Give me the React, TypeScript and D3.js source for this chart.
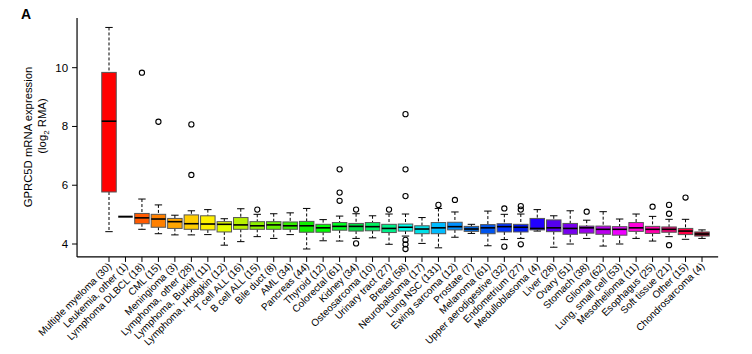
import * as d3 from "d3";

// tissue groups, as on the x axis
const categories = [
  "Multiple myeloma (30)", "Leukemia, other (1)", "Lymphoma DLBCL (18)", "CML (15)",
  "Meningioma (3)", "Lymphoma, other (28)", "Lymphoma, Burkitt (11)", "Lymphoma, Hodgkin (12)",
  "T cell ALL (16)", "B cell ALL (15)", "Bile duct (8)", "AML (34)", "Pancreas (44)",
  "Thyroid (12)", "Colorectal (61)", "Kidney (34)", "Osteosarcoma (10)", "Urinary tract (27)",
  "Breast (58)", "Neurobalstoma (17)", "Lung NSC (131)", "Ewing sarcoma (12)", "Prostate (7)",
  "Melanoma (61)", "Upper aerodigestive (32)", "Endometrium (27)", "Medulloblasoma (4)",
  "Liver (28)", "Ovary (51)", "Stomach (38)", "Glioma (62)", "Lung, small cell (53)",
  "Mesothelioma (11)", "Esophagus (25)", "Soft tissue (21)", "Other (15)", "Chondrosarcoma (4)",
];

const whiskerHigh = [11.37, 4.93, 5.53, 5.33, 4.98, 5.13, 5.17, 4.86, 5.2, 5.01, 5.03, 5.06, 5.21,
  4.83, 4.95, 5.03, 4.96, 5.02, 5.02, 4.9, 5.21, 5.09, 4.67, 5.12, 5.01, 5.02, 5.17,
  4.96, 5.13, 4.81, 5.1, 4.85, 5.02, 4.94, 4.84, 4.84, 4.48];
const q3 = [9.84, 4.93, 5.04, 5.01, 4.87, 4.99, 4.96, 4.76, 4.9, 4.76, 4.76, 4.75, 4.77,
  4.67, 4.73, 4.7, 4.73, 4.67, 4.68, 4.62, 4.73, 4.74, 4.6, 4.66, 4.69, 4.67, 4.87,
  4.82, 4.7, 4.61, 4.61, 4.59, 4.73, 4.6, 4.58, 4.53, 4.41];
const median = [8.18, 4.93, 4.89, 4.85, 4.76, 4.69, 4.68, 4.67, 4.65, 4.62, 4.65, 4.62, 4.62,
  4.55, 4.6, 4.6, 4.59, 4.53, 4.57, 4.51, 4.55, 4.59, 4.51, 4.55, 4.59, 4.57, 4.53,
  4.55, 4.53, 4.55, 4.5, 4.5, 4.55, 4.5, 4.5, 4.44, 4.34];
const q1 = [5.77, 4.93, 4.69, 4.57, 4.53, 4.5, 4.48, 4.41, 4.5, 4.5, 4.5, 4.5, 4.4,
  4.4, 4.47, 4.44, 4.45, 4.39, 4.44, 4.35, 4.35, 4.48, 4.43, 4.35, 4.41, 4.41, 4.48,
  4.42, 4.33, 4.37, 4.33, 4.3, 4.43, 4.36, 4.4, 4.32, 4.27];
const whiskerLow = [4.42, 4.93, 4.5, 4.35, 4.31, 4.31, 4.32, 3.96, 4.08, 4.25, 4.19, 4.32, 3.83,
  4.11, 4.1, 4.19, 4.21, 3.99, 4.27, 4.02, 3.87, 4.23, 4.36, 3.94, 4.15, 4.19, 4.44,
  3.89, 4.0, 4.19, 3.93, 4.0, 4.19, 4.1, 4.25, 4.16, 4.19];
const outliers: number[][] = [[], [], [9.83], [8.16], [], [8.07, 6.35], [], [], [], [5.17], [], [], [],
  [], [6.54, 5.75, 5.47], [5.17, 4.02], [], [5.17], [8.42, 6.54, 5.63, 4.14, 3.99, 3.83], [], [5.33], [5.5], [],
  [], [5.21, 3.91], [5.29, 5.17, 3.99], [], [], [], [5.1], [], [], [], [5.27], [5.33, 5.03, 3.96], [5.58], []];

const boxColors = ["#ff0000", "#ff0000", "#ff5a00", "#ff8000", "#ffa500", "#ffcc00", "#fff000",
  "#e5ff00", "#b8f000", "#8cf000", "#66ee00", "#33ee00", "#11ee00", "#00ff00", "#00ff22",
  "#00dd44", "#00f060", "#00ee88", "#00ffee", "#00e0e8", "#00bbff", "#0090ff", "#0066dd",
  "#0055ee", "#0033ff", "#0018f0", "#2200ff", "#5500ee", "#7700ee", "#9900ee", "#bb00ee",
  "#ee00ff", "#ff00dd", "#ff00aa", "#ee0077", "#ff0044", "#990022"];

const yTicks = [4, 6, 8, 10];

export default function App() {
  const width = 752;
  const height = 354;

  const x = d3.scaleLinear().domain([0, categories.length - 1]).range([109, 702]);
  const y = d3.scaleLinear().domain([4, 10]).range([244, 67.7]);
  const step = x(1) - x(0);
  const boxW = step * 0.88;
  const capW = step * 0.45;
  const axisY = y(3.56);
  const font = "'Liberation Sans', Arial, Helvetica, sans-serif";

  return (
    <svg width={width} height={height} style={{ position: "absolute", left: 0, top: 0 }} fontFamily={font}>
      <rect width={width} height={height} fill="#fff" />
      <text x={21} y={18.5} fontSize={14} fontWeight="bold">A</text>

      {/* y axis */}
      <line x1={x(-1.94)} x2={x(-1.94)} y1={y(11.69)} y2={axisY} stroke="#000" strokeWidth={1.2} />
      {yTicks.map((t) => (
        <g key={t}>
          <line x1={x(-1.94) - 5} x2={x(-1.94)} y1={y(t)} y2={y(t)} stroke="#000" />
          <text x={x(-1.94) - 9} y={y(t)} dy="0.35em" textAnchor="end" fontSize={11.5}>{t}</text>
        </g>
      ))}
      <text transform={`translate(32,137) rotate(-90)`} textAnchor="middle" fontSize={11.3}>
        GPRC5D mRNA expression
      </text>
      <text transform={`translate(46,126) rotate(-90)`} textAnchor="middle" fontSize={11.3}>
        (log<tspan fontSize={8} dy={3}>2</tspan><tspan dy={-3}> RMA)</tspan>
      </text>

      {/* x axis */}
      <line x1={x(-1.94)} x2={x(36.98)} y1={axisY} y2={axisY} stroke="#000" strokeWidth={1.2} />
      {categories.map((c, i) => (
        <g key={c}>
          <line x1={x(i)} x2={x(i)} y1={axisY} y2={axisY + 5} stroke="#000" />
          <text
            transform={`translate(${x(i) + 3},${axisY + 10}) rotate(-45)`}
            textAnchor="end"
            fontSize={10}
          >
            {c}
          </text>
        </g>
      ))}

      {/* boxes */}
      {categories.map((c, i) => {
        const cx = x(i);
        if (q1[i] === q3[i]) {
          return (
            <line key={c} x1={cx - boxW / 2} x2={cx + boxW / 2} y1={y(median[i])} y2={y(median[i])}
              stroke="#000" strokeWidth={2} />
          );
        }
        return (
          <g key={c}>
            <line x1={cx} x2={cx} y1={y(whiskerHigh[i])} y2={y(q3[i])} stroke="#000" strokeDasharray="3,2" />
            <line x1={cx} x2={cx} y1={y(q1[i])} y2={y(whiskerLow[i])} stroke="#000" strokeDasharray="3,2" />
            <line x1={cx - capW / 2} x2={cx + capW / 2} y1={y(whiskerHigh[i])} y2={y(whiskerHigh[i])} stroke="#000" />
            <line x1={cx - capW / 2} x2={cx + capW / 2} y1={y(whiskerLow[i])} y2={y(whiskerLow[i])} stroke="#000" />
            <rect x={cx - boxW / 2} y={y(q3[i])} width={boxW} height={y(q1[i]) - y(q3[i])}
              fill={boxColors[i]} stroke="#555" strokeWidth={1} />
            <line x1={cx - boxW / 2} x2={cx + boxW / 2} y1={y(median[i])} y2={y(median[i])}
              stroke="#000" strokeWidth={1.6} />
            {outliers[i].map((o, k) => (
              <circle key={k} cx={cx} cy={y(o)} r={2.6} fill="none" stroke="#000" strokeWidth={1.1} />
            ))}
          </g>
        );
      })}
    </svg>
  );
}
